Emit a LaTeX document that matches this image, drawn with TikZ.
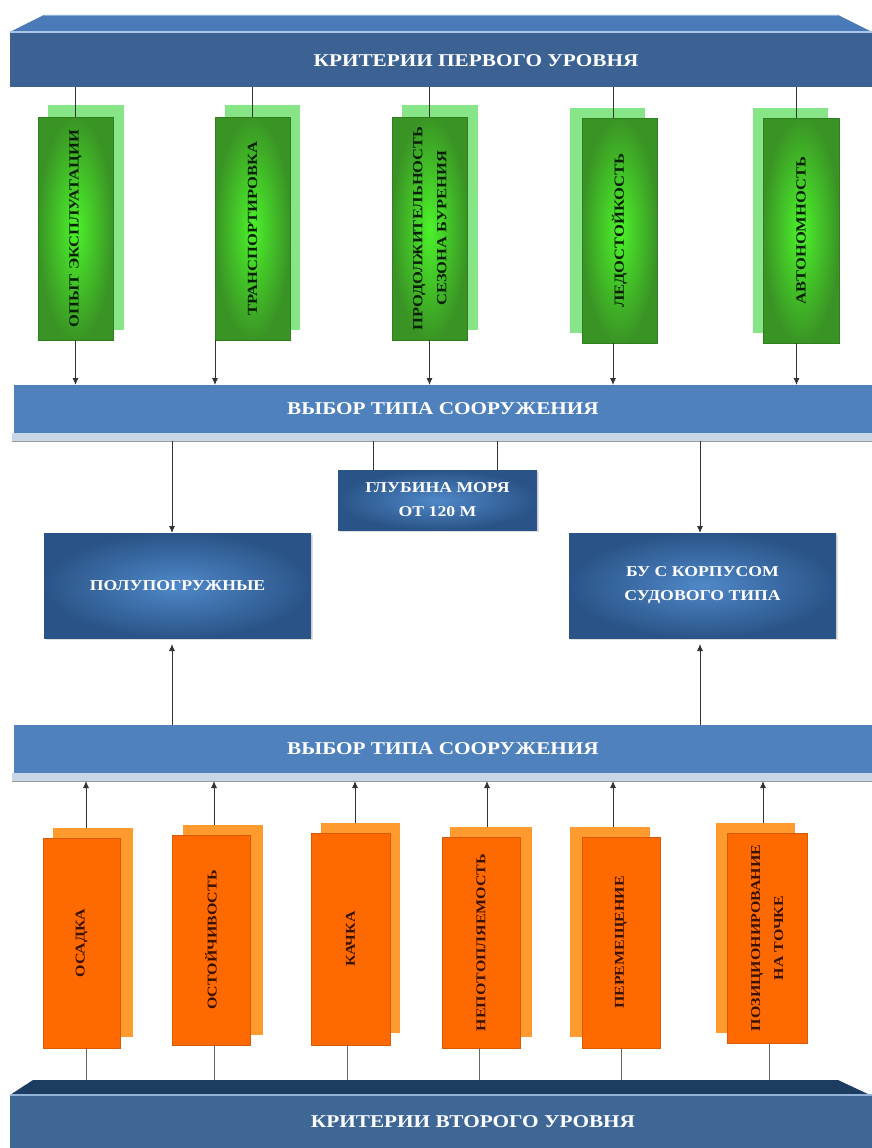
\documentclass[tikz,border=0pt]{standalone}
\usepackage{fontspec}
\usepackage{graphicx}
\setmainfont{Liberation Serif}[FakeStretch=1.18]
\usetikzlibrary{arrows.meta,shadows}
\definecolor{gIn}{HTML}{4CF22A}
\definecolor{gOut}{HTML}{3A9425}
\definecolor{gSh}{HTML}{86E586}
\definecolor{gText}{HTML}{082005}
\definecolor{oMain}{HTML}{FF6A00}
\definecolor{oSh}{HTML}{FF9A2E}
\definecolor{oText}{HTML}{3A1200}
\definecolor{bIn}{HTML}{4F88C8}
\definecolor{bOut}{HTML}{2A5488}
\definecolor{vyb}{HTML}{4F81BD}
\definecolor{vybS}{HTML}{C8D6E8}
\definecolor{topTop}{HTML}{4A7AB7}
\definecolor{topFront}{HTML}{3C6294}
\definecolor{hl}{HTML}{A9C6EA}
\definecolor{botTop}{HTML}{1D3C62}
\definecolor{botFront}{HTML}{3E6796}
\begin{document}
\begin{tikzpicture}[x=1pt,y=-1pt,
  conn/.style={draw=black!80, line width=0.9pt},
  arr/.style={conn, -{Latex[length=7pt,width=6pt]}},
  rect/.style={anchor=north west, inner sep=0pt, outer sep=0pt},
  gmain/.style={rect, inner color=gIn, outer color=gOut, draw=gOut!85!black, line width=0.3pt, text=gText, font=\bfseries\fontsize{14}{24}\selectfont},
  gshad/.style={rect, fill=gSh},
  omain/.style={rect, fill=oMain, draw=oMain!85!black, line width=0.3pt, text=oText, font=\bfseries\fontsize{13.5}{23}\selectfont},
  oshad/.style={rect, fill=oSh},
  bbox/.style={rect, inner color=bIn, outer color=bOut, text=white, font=\bfseries\fontsize{15}{24}\selectfont, align=center, drop shadow={opacity=0.25, shadow xshift=2pt, shadow yshift=-2pt}},
  bartxt/.style={text=white, font=\bfseries\fontsize{18}{22}\selectfont},
  vbar/.style={rect, fill=vyb, bartxt},
  vshad/.style={rect, fill=vybS},
]
\useasboundingbox (0,0) rectangle (872,1148);
\fill[white] (0,0) rectangle (872,1148);

% ---------- top bar ----------
\fill[topTop] (10,32) -- (44,15) -- (838,15) -- (872,32) -- cycle;
\node[rect, fill=topFront, minimum width=862pt, minimum height=55pt] (top) at (10,32) {};
\draw[hl, line width=1.5pt] (10,32) -- (872,32);
\draw[hl!70!topTop, line width=0.8pt] (44,15.5) -- (838,15.5);
\node[bartxt] (toptxt) at (476,61) {КРИТЕРИИ ПЕРВОГО УРОВНЯ};

% ---------- green boxes ----------
\node[gshad, minimum width=76pt, minimum height=225pt] (g1s) at (48,105) {};
\node[gshad, minimum width=75pt, minimum height=225pt] (g2s) at (225,105) {};
\node[gshad, minimum width=76pt, minimum height=225pt] (g3s) at (402,105) {};
\node[gshad, minimum width=75pt, minimum height=225pt] (g4s) at (570,108) {};
\node[gshad, minimum width=75pt, minimum height=225pt] (g5s) at (753,108) {};

\node[gmain, minimum width=75pt, minimum height=223pt] (g1) at (38,117) {\rotatebox{90}{ОПЫТ ЭКСПЛУАТАЦИИ}};
\node[gmain, minimum width=75pt, minimum height=223pt] (g2) at (215,117) {\rotatebox{90}{ТРАНСПОРТИРОВКА}};
\node[gmain, minimum width=75pt, minimum height=223pt] (g3) at (392,117) {\rotatebox{90}{\begin{tabular}{@{}c@{}}ПРОДОЛЖИТЕЛЬНОСТЬ\\СЕЗОНА БУРЕНИЯ\end{tabular}}};
\node[gmain, minimum width=75pt, minimum height=225pt] (g4) at (582,118) {\rotatebox{90}{ЛЕДОСТОЙКОСТЬ}};
\node[gmain, minimum width=76pt, minimum height=225pt] (g5) at (763,118) {\rotatebox{90}{АВТОНОМНОСТЬ}};

% ---------- first choice bar ----------
\node[vbar, minimum width=858pt, minimum height=48pt] (vyb1) at (14,385) {ВЫБОР ТИПА СООРУЖЕНИЯ};
\node[vshad, minimum width=860pt, minimum height=8pt] (v1s) at (12,433) {};
\draw[black!40, line width=0.8pt] (v1s.south west) -- (v1s.south east);

% connectors top -> green
\coordinate (g4t) at ([xshift=-6.5pt]g4.north);
\coordinate (g5t) at ([xshift=-4.5pt]g5.north);
\draw[conn] (g1.north |- top.south) -- (g1.north);
\draw[conn] (g2.north |- top.south) -- (g2.north);
\draw[conn] (g3.north |- top.south) -- (g3.north);
\draw[conn] (g4t |- top.south) -- (g4t);
\draw[conn] (g5t |- top.south) -- (g5t);

% connectors green -> bar
\coordinate (g4b) at ([xshift=-6.5pt]g4.south);
\coordinate (g5b) at ([xshift=-4.5pt]g5.south);
\draw[arr] (g1.south) -- (g1.south |- vyb1.north);
\draw[arr] (g2.south west) -- (g2.south west |- vyb1.north);
\draw[arr] (g3.south) -- (g3.south |- vyb1.north);
\draw[arr] (g4b) -- (g4b |- vyb1.north);
\draw[arr] (g5b) -- (g5b |- vyb1.north);

% ---------- middle boxes ----------
\node[bbox, minimum width=199pt, minimum height=60pt] (gl) at (338,470) {ГЛУБИНА МОРЯ\\ОТ 120 М};
\node[bbox, minimum width=267pt, minimum height=105pt] (polu) at (44,533) {ПОЛУПОГРУЖНЫЕ};
\node[bbox, minimum width=267pt, minimum height=105pt] (bu) at (569,533) {БУ С КОРПУСОМ\\СУДОВОГО ТИПА};

\coordinate (pd) at ([xshift=-5.5pt]polu.north);
\coordinate (bd) at ([xshift=-2.5pt]bu.north);
\coordinate (gl1) at ([xshift=-64.5pt]gl.north);
\coordinate (gl2) at ([xshift=59.5pt]gl.north);
\draw[arr] (pd |- v1s.south) -- (pd);
\draw[arr] (bd |- v1s.south) -- (bd);
\draw[conn] (gl1 |- v1s.south) -- (gl1);
\draw[conn] (gl2 |- v1s.south) -- (gl2);

% ---------- second choice bar ----------
\node[vbar, minimum width=858pt, minimum height=48pt] (vyb2) at (14,725) {ВЫБОР ТИПА СООРУЖЕНИЯ};
\node[vshad, minimum width=860pt, minimum height=8pt] (v2s) at (12,773) {};
\draw[black!40, line width=0.8pt] (v2s.south west) -- (v2s.south east);

\coordinate (pu) at ([xshift=-5.5pt]polu.south);
\coordinate (bu2) at ([xshift=-2.5pt]bu.south);
\draw[arr, shorten >=6pt] (pu |- vyb2.north) -- (pu);
\draw[arr, shorten >=6pt] (bu2 |- vyb2.north) -- (bu2);

% ---------- orange boxes ----------
\node[oshad, minimum width=80pt, minimum height=209pt] (o1s) at (53,828) {};
\node[oshad, minimum width=80pt, minimum height=210pt] (o2s) at (183,825) {};
\node[oshad, minimum width=79pt, minimum height=210pt] (o3s) at (321,823) {};
\node[oshad, minimum width=82pt, minimum height=210pt] (o4s) at (450,827) {};
\node[oshad, minimum width=80pt, minimum height=210pt] (o5s) at (570,827) {};
\node[oshad, minimum width=79pt, minimum height=210pt] (o6s) at (716,823) {};

\node[omain, minimum width=77pt, minimum height=210pt] (o1) at (43,838) {\rotatebox{90}{ОСАДКА}};
\node[omain, minimum width=78pt, minimum height=210pt] (o2) at (172,835) {\rotatebox{90}{ОСТОЙЧИВОСТЬ}};
\node[omain, minimum width=79pt, minimum height=212pt] (o3) at (311,833) {\rotatebox{90}{КАЧКА}};
\node[omain, minimum width=78pt, minimum height=211pt] (o4) at (442,837) {\rotatebox{90}{НЕПОТОПЛЯЕМОСТЬ}};
\node[omain, minimum width=78pt, minimum height=211pt] (o5) at (582,837) {\rotatebox{90}{ПЕРЕМЕЩЕНИЕ}};
\node[omain, minimum width=80pt, minimum height=210pt] (o6) at (727,833) {\rotatebox{90}{\begin{tabular}{@{}c@{}}ПОЗИЦИОНИРОВАНИЕ\\НА ТОЧКЕ\end{tabular}}};

% arrows orange -> bar
\coordinate (o1a) at ([xshift=4.5pt]o1.north);
\coordinate (o2a) at ([xshift=3pt]o2.north);
\coordinate (o3a) at ([xshift=4.5pt]o3.north);
\coordinate (o4a) at ([xshift=6pt]o4.north);
\coordinate (o5a) at ([xshift=-8pt]o5.north);
\coordinate (o6a) at ([xshift=-4pt]o6.north);
\draw[arr] (o1a |- o1s.north) -- (o1a |- v2s.south);
\draw[arr] (o2a |- o2s.north) -- (o2a |- v2s.south);
\draw[arr] (o3a |- o3s.north) -- (o3a |- v2s.south);
\draw[arr] (o4a |- o4s.north) -- (o4a |- v2s.south);
\draw[arr] (o5a |- o5s.north) -- (o5a |- v2s.south);
\draw[arr] (o6a |- o6s.north) -- (o6a |- v2s.south);

% ---------- bottom bar ----------
\fill[botTop] (10,1095) -- (33,1080) -- (838,1080) -- (870,1095) -- cycle;
\node[rect, fill=botFront, minimum width=862pt, minimum height=53pt] (bot) at (10,1095) {};
\draw[hl!80!botFront, line width=1.2pt] (10,1095) -- (872,1095);
\coordinate (botface) at (0,1080);
\node[bartxt] (bottxt) at (473,1122) {КРИТЕРИИ ВТОРОГО УРОВНЯ};

\coordinate (o1b) at ([xshift=4.5pt]o1.south);
\coordinate (o2b) at ([xshift=3pt]o2.south);
\coordinate (o3b) at ([xshift=-3.5pt]o3.south);
\coordinate (o4b) at ([xshift=-2pt]o4.south);
\coordinate (o5b) at (o5.south);
\coordinate (o6b) at ([xshift=2pt]o6.south);
\draw[conn, line width=0.6pt, draw=black!60] (o1b) -- (o1b |- botface);
\draw[conn, line width=0.6pt, draw=black!60] (o2b) -- (o2b |- botface);
\draw[conn, line width=0.6pt, draw=black!60] (o3b) -- (o3b |- botface);
\draw[conn, line width=0.6pt, draw=black!60] (o4b) -- (o4b |- botface);
\draw[conn, line width=0.6pt, draw=black!60] (o5b) -- (o5b |- botface);
\draw[conn, line width=0.6pt, draw=black!60] (o6b) -- (o6b |- botface);
\end{tikzpicture}
\end{document}
